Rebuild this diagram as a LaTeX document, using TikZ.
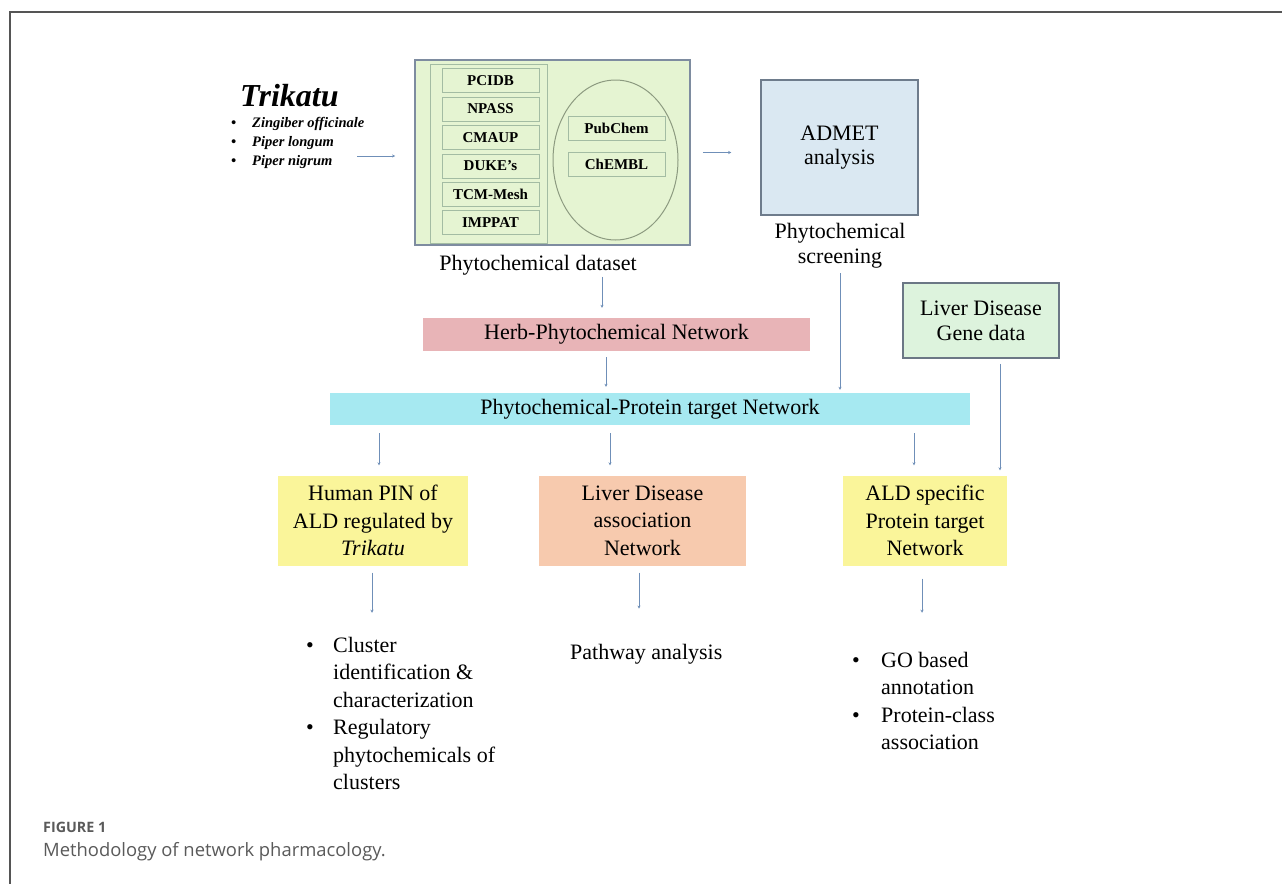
\documentclass[tikz,border=0pt]{standalone}
\usepackage{fontspec}
\setmainfont{Liberation Serif}
\newfontfamily\capfont{Open Sans}
\usetikzlibrary{shapes.geometric,arrows.meta,calc}
\definecolor{greenfill}{HTML}{E5F4D2}
\definecolor{bigline}{HTML}{7E8CA0}
\definecolor{dbline}{HTML}{A3BCA3}
\definecolor{ellline}{HTML}{8C9A80}
\definecolor{admetfill}{HTML}{DAE8F2}
\definecolor{admetline}{HTML}{6E7C8C}
\definecolor{genefill}{HTML}{DDF3DD}
\definecolor{geneline}{HTML}{6B7785}
\definecolor{herbfill}{HTML}{E8B4B7}
\definecolor{pptfill}{HTML}{A6E9F1}
\definecolor{yellowfill}{HTML}{FAF59A}
\definecolor{orangefill}{HTML}{F7CAAE}
\definecolor{arrowc}{HTML}{6F8FB8}
\definecolor{framec}{HTML}{555555}
\definecolor{capgray}{HTML}{5A5A5A}
\tikzset{
  arr/.style={draw=arrowc, line width=0.9pt, -{Stealth[length=3pt,width=3pt]}},
  dbbox/.style={draw=dbline, line width=1pt, fill=greenfill, minimum width=97pt, minimum height=24pt, inner sep=0pt, font=\fontsize{15}{18}\selectfont\bfseries},
  bodytext/.style={font=\fontsize{22}{27.5}\selectfont, align=center},
  colorbox/.style={bodytext, inner sep=0pt, draw=none},
  listtext/.style={font=\fontsize{22}{27.5}\selectfont, inner sep=0pt, align=left}
}
\begin{document}
\begin{tikzpicture}[x=1pt,y=-1pt]
\useasboundingbox (0,0) rectangle (1282,884);
\fill[white] (0,0) rectangle (1282,884);
% frame
\draw[framec, line width=2pt] (1282,12) -- (10,12) -- (10,884);

% Trikatu
\node[anchor=base west, inner sep=0pt, font=\fontsize{32}{38}\selectfont\bfseries\itshape] (trik) at (240,106) {Trikatu};
\node[anchor=north west, inner sep=0pt, font=\fontsize{14.5}{19}\selectfont\bfseries\itshape] (herbs) at (231,114.2)
 {\begin{tabular}{@{}p{21pt}@{}l@{}}\textbullet & Zingiber officinale\\ \textbullet & Piper longum\\ \textbullet & Piper nigrum\end{tabular}};
\coordinate (trikarrow) at (357,156);

% Phytochemical dataset
\node[draw=bigline, line width=1.8pt, fill=greenfill, minimum width=275pt, minimum height=185pt, inner sep=0pt] (ds) at (552.5,152.5) {};
\node[draw=dbline, line width=1pt, minimum width=117pt, minimum height=179pt, inner sep=0pt] (col) at (488.5,153.5) {};
\node[dbbox] (pcidb) at (490.5,80.5) {PCIDB};
\node[dbbox] (npass) at (490.5,109) {NPASS};
\node[dbbox] (cmaup) at (490.5,137.5) {CMAUP};
\node[dbbox] (duke) at (490.5,166) {DUKE's};
\node[dbbox] (tcm) at (490.5,194) {TCM-Mesh};
\node[dbbox] (imppat) at (490.5,222.5) {IMPPAT};
\node[ellipse, draw=ellline, line width=1pt, minimum width=125pt, minimum height=160pt, inner sep=0pt] (ell) at (615.5,160) {};
\node[dbbox] (pubchem) at (616.5,128) {PubChem};
\node[dbbox] (chembl) at (616.5,164) {ChEMBL};
\node[anchor=base, inner sep=0pt, font=\fontsize{22}{27.5}\selectfont] (dslabel) at (538,270) {Phytochemical dataset};

% ADMET
\node[draw=admetline, line width=1.5pt, fill=admetfill, minimum width=157pt, minimum height=135pt, inner sep=0pt, bodytext, font=\fontsize{22}{24}\selectfont] (admet) at (839.5,147.5) {ADMET\\analysis};
\node[anchor=south, inner sep=0pt, bodytext, font=\fontsize{22}{25}\selectfont] (scr) at (840,268) {Phytochemical\\screening};

% Liver disease gene data
\node[draw=geneline, line width=1.5pt, fill=genefill, minimum width=156pt, minimum height=75pt, inner sep=0pt, bodytext, font=\fontsize{22}{25}\selectfont] (gene) at (981,320.5) {Liver Disease\\Gene data};

% bars
\node[colorbox, fill=herbfill, minimum width=387pt, minimum height=33pt] (herb) at (616.5,334.5) {Herb-Phytochemical Network};
\node[colorbox, fill=pptfill, minimum width=640pt, minimum height=32pt] (ppt) at (650,409) {Phytochemical-Protein target Network};

% result boxes
\node[colorbox, fill=yellowfill, minimum width=190pt, minimum height=90pt] (pin) at (373,520.5) {Human PIN of\\ALD regulated by\\\textit{Trikatu}};
\node[colorbox, fill=orangefill, minimum width=207pt, minimum height=90pt] (lda) at (642.5,520.5) {Liver Disease\\association\\Network};
\node[colorbox, fill=yellowfill, minimum width=164pt, minimum height=90pt] (ald) at (925,520.5) {ALD specific\\Protein target\\Network};

% outputs
\node[listtext, anchor=north west] (lst1) at (306,632.75)
 {\begin{tabular}{@{}p{27pt}@{}l@{}}\textbullet & Cluster\\ & identification \&\\ & characterization\\ \textbullet & Regulatory\\ & phytochemicals of\\ & clusters\end{tabular}};
\node[anchor=base west, inner sep=0pt, font=\fontsize{22}{27.5}\selectfont] (pw) at (570,659) {Pathway analysis};
\node[listtext, anchor=north west] (lst2) at (852,647.75)
 {\begin{tabular}{@{}p{29pt}@{}l@{}}\textbullet & GO based\\ & annotation\\ \textbullet & Protein-class\\ & association\end{tabular}};

% caption
\node[anchor=base west, inner sep=0pt, text=capgray, font=\capfont\bfseries\fontsize{14.3}{16}\selectfont] (figlab) at (43,832) {FIGURE 1};
\node[anchor=base west, inner sep=0pt, text=capgray, font=\capfont\fontsize{18.4}{21}\selectfont] (figcap) at (43,856) {Methodology of network pharmacology.};

% connectors
\draw[arr, shorten >=19pt] (trikarrow) -- (ds.west |- trikarrow);
\draw[arr, shorten <=12pt, shorten >=29pt] (ds.east) -- (ds.east -| admet.west);
\draw[arr, shorten <=2pt, shorten >=10pt] ([xshift=-14.5pt]herb.north |- dslabel.south) -- ([xshift=-14.5pt]herb.north);
\draw[arr, shorten <=6pt, shorten >=6pt] ([xshift=-10.5pt]herb.south) -- ([xshift=-10.5pt]herb.south |- ppt.north);
\draw[arr, shorten <=5pt, shorten >=3pt] (scr.south) -- (scr.south |- ppt.north);
\draw[arr, shorten <=5pt, shorten >=5pt] ([xshift=19pt]gene.south) -- ([xshift=19pt]gene.south |- ald.north);
\draw[arr, shorten <=8pt, shorten >=10pt] ([xshift=6pt]pin.north |- ppt.south) -- ([xshift=6pt]pin.north);
\draw[arr, shorten <=8pt, shorten >=10pt] ([xshift=-32.5pt]lda.north |- ppt.south) -- ([xshift=-32.5pt]lda.north);
\draw[arr, shorten <=8pt, shorten >=10pt] ([xshift=-11pt]ald.north |- ppt.south) -- ([xshift=-11pt]ald.north);
\draw[arr, shorten <=7pt, shorten >=20pt] ([xshift=-1pt]pin.south) -- ([xshift=-1pt]pin.south |- lst1.north);
\draw[arr, shorten <=7pt, shorten >=35pt] ([xshift=-3.5pt]lda.south) -- ([xshift=-3.5pt]lda.south |- pw.north);
\draw[arr, shorten <=13pt, shorten >=35pt] ([xshift=-3pt]ald.south) -- ([xshift=-3pt]ald.south |- lst2.north);
\end{tikzpicture}
\end{document}
